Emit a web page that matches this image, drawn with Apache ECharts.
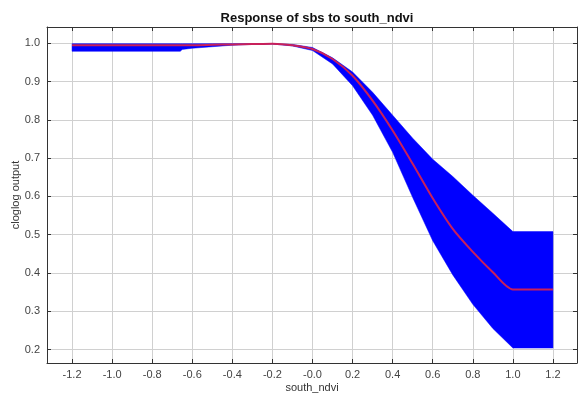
<!DOCTYPE html>
<html>
<head>
<meta charset="utf-8">
<script src="https://cdn.jsdelivr.net/npm/echarts@6/dist/echarts.min.js"></script>
<style>
  html, body { margin: 0; padding: 0; background: #fff; }
  #chart { width: 578px; height: 394px; }
</style>
</head>
<body>
<div id="chart"></div>
<script>
// values
const xs = [-1.2, -0.66, -0.65, -0.6, -0.5, -0.4, -0.3, -0.2, -0.1, 0.0, 0.1, 0.2, 0.3, 0.4, 0.5, 0.6, 0.7, 0.8, 0.9, 1.0, 1.2]
const meanVals = [0.995, 0.995, 0.995, 0.995, 0.996, 0.997, 0.998, 0.999, 0.995, 0.985, 0.959, 0.915, 0.850, 0.772, 0.685, 0.595, 0.515, 0.455, 0.402, 0.357, 0.357]
const upperVals = [0.999, 0.999, 0.999, 0.999, 0.999, 0.999, 0.999, 0.999, 0.997, 0.989, 0.962, 0.925, 0.872, 0.812, 0.752, 0.697, 0.652, 0.603, 0.556, 0.508, 0.508]
const lowerVals = [0.979, 0.979, 0.984, 0.987, 0.991, 0.995, 0.997, 0.998, 0.993, 0.981, 0.946, 0.889, 0.812, 0.715, 0.597, 0.484, 0.395, 0.318, 0.255, 0.204, 0.204]

const xTicks = [-1.2, -1.0, -0.8, -0.6, -0.4, -0.2, 0.0, 0.2, 0.4, 0.6, 0.8, 1.0, 1.2]
const xTickLabels = ['-1.2', '-1.0', '-0.8', '-0.6', '-0.4', '-0.2', '-0.0', '0.2', '0.4', '0.6', '0.8', '1.0', '1.2']
const yTicks = [0.2, 0.3, 0.4, 0.5, 0.6, 0.7, 0.8, 0.9, 1.0]
const yTickLabels = ['0.2', '0.3', '0.4', '0.5', '0.6', '0.7', '0.8', '0.9', '1.0']

const chart = echarts.init(document.getElementById('chart'))

const font = 'Liberation Sans, Arial, sans-serif'
const labelColor = '#444'

function xLabel(v) {
  const i = xTicks.findIndex(t => Math.abs(t - v) < 1e-6)
  return i >= 0 ? xTickLabels[i] : ''
}
function yLabel(v) {
  const i = yTicks.findIndex(t => Math.abs(t - v) < 1e-6)
  return i >= 0 ? yTickLabels[i] : ''
}

const meanData = xs.map((x, i) => [x, meanVals[i]])

// band polygon: upper edge left->right, lower edge right->left
function renderBand(params, api) {
  if (params.dataIndex !== 0) return null
  const pts = []
  for (let i = 0; i < xs.length; i++) pts.push(api.coord([xs[i], upperVals[i]]))
  for (let i = xs.length - 1; i >= 0; i--) pts.push(api.coord([xs[i], lowerVals[i]]))
  return {
    type: 'polygon',
    shape: { points: pts },
    style: { fill: '#0000ff', stroke: '#0000ff', lineWidth: 0.5 }
  }
}

function xAxisCfg(pos, showLabels) {
  return {
    type: 'value',
    position: pos,
    min: -1.325,
    max: 1.32,
    name: showLabels ? 'south_ndvi' : '',
    nameLocation: 'middle',
    nameGap: 19,
    nameMoveOverlap: false,
    nameTextStyle: { fontFamily: font, fontSize: 11, color: '#333' },
    axisLine: { show: true, onZero: false, lineStyle: { color: '#333', width: 1 } },
    axisTick: { show: true, inside: true, length: 4, customValues: xTicks, lineStyle: { color: '#333' } },
    axisLabel: {
      show: showLabels, customValues: xTicks, formatter: xLabel,
      fontFamily: font, fontSize: 11, color: labelColor, margin: 6
    },
    splitLine: { show: showLabels, lineStyle: { color: '#d0d0d0', width: 1 } }
  }
}
function yAxisCfg(pos, showLabels) {
  return {
    type: 'value',
    position: pos,
    min: 0.1648,
    max: 1.0425,
    name: showLabels ? 'cloglog output' : '',
    nameLocation: 'middle',
    nameGap: 26,
    nameMoveOverlap: false,
    nameTextStyle: { fontFamily: font, fontSize: 11, color: '#333' },
    axisLine: { show: true, onZero: false, lineStyle: { color: '#333', width: 1 } },
    axisTick: { show: true, inside: true, length: 4, customValues: yTicks, lineStyle: { color: '#333' } },
    axisLabel: {
      show: showLabels, customValues: yTicks, formatter: yLabel,
      fontFamily: font, fontSize: 11, color: labelColor, margin: 7
    },
    splitLine: { show: showLabels, lineStyle: { color: '#d0d0d0', width: 1 } }
  }
}

chart.setOption({
  animation: false,
  backgroundColor: '#fff',
  title: {
    text: 'Response of sbs to south_ndvi',
    left: 312,
    textAlign: 'center',
    top: 7,
    textStyle: { fontFamily: font, fontSize: 13, fontWeight: 'bold', color: '#111' }
  },
  grid: { left: 47, right: 1, top: 27, bottom: 31, outerBoundsMode: 'none' },
  xAxis: [xAxisCfg('bottom', true), xAxisCfg('top', false)],
  yAxis: [yAxisCfg('left', true), yAxisCfg('right', false)],
  series: [
    {
      name: 'band',
      type: 'custom',
      renderItem: renderBand,
      data: [[xs[0], lowerVals[0]]],
      silent: true,
      clip: true,
      z: 2
    },
    {
      name: 'mean',
      type: 'line',
      data: meanData,
      symbol: 'none',
      smooth: 0.25,
      lineStyle: { color: '#c8205a', width: 2 },
      z: 5
    }
  ]
})
</script>
</body>
</html>
